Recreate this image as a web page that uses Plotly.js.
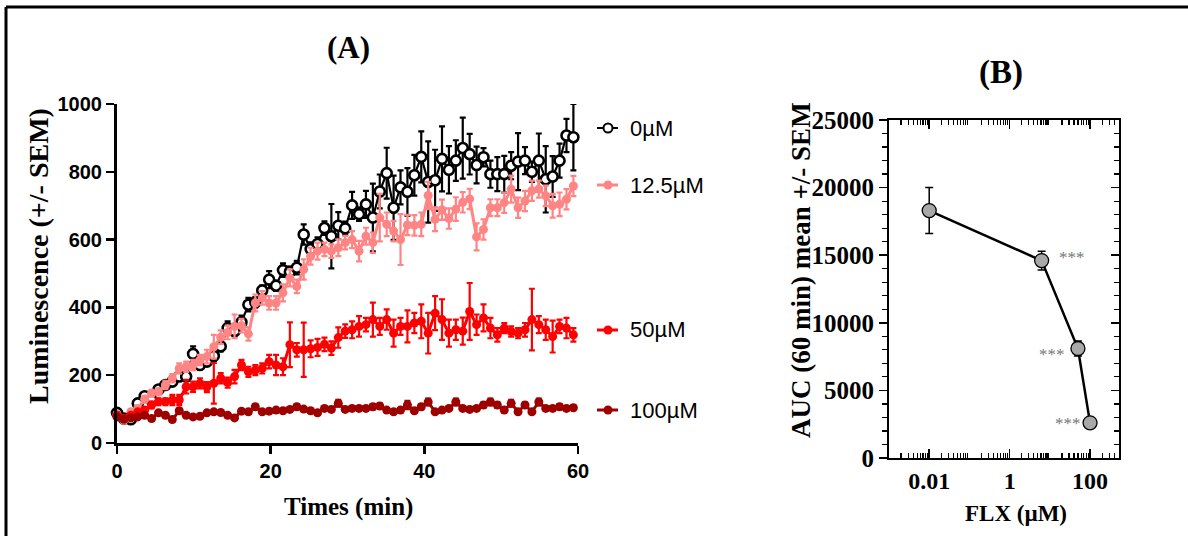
<!DOCTYPE html>
<html><head><meta charset="utf-8">
<script src="https://cdn.plot.ly/plotly-3.0.1.min.js"></script>
<style>html,body{margin:0;padding:0;background:#fff;}#chart{width:1188px;height:536px;}</style>
</head><body><div id="chart"></div>
<script>
// ---------- Panel A data ----------
const times = [0,0.9,1.8,2.7,3.6,4.5,5.4,6.3,7.2,8.1,9,9.9,10.8,11.7,12.6,13.5,14.4,15.3,16.2,17.1,18,18.9,19.8,20.7,21.6,22.5,23.4,24.3,25.2,26.1,27,27.9,28.8,29.7,30.6,31.5,32.4,33.3,34.2,35.1,36,36.9,37.8,38.7,39.6,40.5,41.4,42.3,43.2,44.1,45,45.9,46.8,47.7,48.6,49.5,50.4,51.3,52.2,53.1,54,54.9,55.8,56.7,57.6,58.5,59.4];
const lum0 = [89,72,70,117,138,126,158,171,181,196,196,263,230,240,257,285,339,330,356,408,415,450,482,464,510,505,517,615,572,587,634,610,641,633,701,675,704,665,742,796,694,754,741,790,844,770,775,838,806,833,870,852,820,843,793,793,793,818,830,833,800,833,778,786,833,907,902];
const sem0 = [8,6,6,8,8,10,8,10,10,10,12,22,12,12,15,15,20,15,20,20,15,15,25,15,20,15,20,30,20,20,20,95,40,20,40,20,40,100,50,75,95,50,70,60,75,120,90,96,70,60,90,60,54,27,40,50,54,40,84,40,30,80,98,60,50,49,98];
const lum12 = [85,67,92,102,129,147,151,171,191,220,225,230,245,255,284,312,326,344,346,322,413,428,413,413,443,487,462,512,551,566,571,566,576,591,600,566,610,591,665,645,625,600,643,642,645,730,660,688,662,690,710,720,608,630,694,694,709,749,694,714,744,749,729,700,704,719,758];
const sem12 = [6,6,8,8,10,10,10,12,12,15,15,15,15,20,35,20,20,35,20,20,25,20,20,20,25,25,20,30,25,25,20,20,25,20,25,30,25,30,70,35,30,75,30,30,35,40,35,30,30,35,30,30,40,30,25,25,30,40,30,30,30,25,30,35,35,30,30];
const lum50 = [82,72,82,92,97,112,122,122,127,127,166,166,176,165,176,191,178,196,230,210,215,220,240,230,225,290,275,275,278,282,291,280,311,330,334,344,349,364,344,364,324,344,344,354,359,324,383,364,324,334,330,388,349,369,339,319,339,329,324,334,364,349,334,314,344,339,319];
const sem50 = [8,6,6,6,8,10,10,10,15,15,20,15,15,15,60,15,15,20,15,15,15,15,20,30,25,66,20,80,25,25,20,20,30,20,25,30,20,50,25,30,40,25,47,30,50,60,50,60,40,30,40,84,30,40,30,20,15,15,15,20,91,25,30,47,20,30,20];
const lum100 = [77,70,74,77,82,72,89,82,69,95,82,77,79,89,92,90,82,74,94,92,107,92,94,97,95,99,107,100,95,89,102,99,117,99,102,102,102,107,109,97,92,97,112,95,107,121,92,97,102,121,102,99,102,112,121,112,97,117,92,112,92,121,102,102,107,102,104];
const sem100 = [5,5,5,5,6,5,6,5,5,6,5,5,5,6,6,5,5,5,6,6,8,5,6,6,6,6,8,6,6,6,6,6,10,6,6,6,6,8,8,6,6,6,12,6,8,10,6,6,6,10,6,6,6,8,10,8,6,10,6,8,6,10,6,6,8,6,6];
const seriesNames = ['0µM','12.5µM','50µM','100µM'];
const seriesColors = ['#000000','#FF8585','#FF0000','#9E0000'];

// ---------- Panel B data ----------
const flx = [0.01, 6.25, 50, 100];
const auc = [18300, 14600, 8100, 2600];
const aucSem = [1700, 700, 550, 200];
const sigLabels = ['', '***', '***', '***'];

const W = 1188, H = 536;
const px = x => x / W;
const py = y => 1 - y / H;

const serif = 'Liberation Serif, Times New Roman, serif';
const sans = 'Liberation Sans, Arial, sans-serif';

function seriesTrace(y, e, i, open) {
  const c = seriesColors[i];
  return {
    x: times, y: y, type: 'scatter', mode: 'lines+markers', name: seriesNames[i],
    xaxis: 'x', yaxis: 'y', cliponaxis: false, showlegend: false,
    line: {color: c, width: open ? 2.2 : 3},
    marker: open ? {symbol: 'circle', size: 10, color: '#ffffff', line: {color: c, width: 2.6}}
                 : {symbol: 'circle', size: 9, color: c, line: {width: 0}},
    error_y: {type: 'data', array: e, visible: true, color: c, thickness: 2.2, width: 3}
  };
}

const traces = [
  seriesTrace(lum0, sem0, 0, true),
  seriesTrace(lum12, sem12, 1, false),
  seriesTrace(lum50, sem50, 2, false),
  seriesTrace(lum100, sem100, 3, false),
  {
    x: flx, y: auc, type: 'scatter', mode: 'lines+markers', xaxis: 'x2', yaxis: 'y2',
    cliponaxis: false, showlegend: false,
    line: {color: '#000', width: 2.5},
    marker: {symbol: 'circle', size: 14, color: '#A8A8A8', line: {color: '#000', width: 1.3}},
    error_y: {type: 'data', array: aucSem, visible: true, color: '#000', thickness: 1.5, width: 4}
  }
];

// legend (A) placed next to the curves, as in the reference
const legendY = [128, 185, 330, 410];
const shapes = [
  {type: 'line', xref: 'paper', yref: 'paper', x0: px(6), x1: px(1188), y0: py(7), y1: py(7), line: {color: '#000', width: 3}},
  {type: 'line', xref: 'paper', yref: 'paper', x0: px(6), x1: px(6), y0: py(7), y1: py(536), line: {color: '#000', width: 3}}
];
const ann = (text, x, y, size, extra) => Object.assign({text: text, xref: 'paper', yref: 'paper', x: px(x), y: py(y),
  xanchor: 'center', yanchor: 'middle', showarrow: false, font: {family: serif, size: size, weight: 'bold', color: '#000'}}, extra || {});
const annotations = [
  ann('(A)', 348, 47, 31),
  ann('(B)', 1001, 73, 33),
  ann('Luminescence (+/- SEM)', 38, 256, 28, {textangle: -90}),
  ann('Times (min)', 348, 507, 25),
  ann('AUC (60 min) mean +/- SEM', 801, 270, 27, {textangle: -90}),
  ann('FLX (µM)', 1016, 513, 23)
];
seriesNames.forEach((n, i) => {
  const c = seriesColors[i];
  shapes.push({type: 'line', xref: 'paper', yref: 'paper', x0: px(597), x1: px(618), y0: py(legendY[i]), y1: py(legendY[i]), line: {color: c, width: i === 0 ? 2 : 3}});
  shapes.push({type: 'circle', xref: 'paper', yref: 'paper', x0: px(603.5), x1: px(612.5), y0: py(legendY[i] - 4.5), y1: py(legendY[i] + 4.5),
    fillcolor: i === 0 ? '#fff' : c, line: {color: c, width: i === 0 ? 2 : 0}});
  annotations.push({text: n, xref: 'paper', yref: 'paper', x: px(628), y: py(legendY[i]), xanchor: 'left', yanchor: 'middle', showarrow: false,
    font: {family: sans, size: 22, color: '#000'}});
});
const starShift = [0, 30, -26, -22];
const starYShift = [0, 3, -6, -1];
flx.forEach((f, i) => {
  if (!sigLabels[i]) return;
  annotations.push({text: sigLabels[i], xref: 'x2', yref: 'y2', x: Math.log10(f), y: auc[i], xshift: starShift[i], yshift: starYShift[i],
    xanchor: 'center', yanchor: 'middle', showarrow: false, font: {family: serif, size: 17, color: '#777'}});
});

const logMinor = [];
[0.001, 0.01, 0.1, 1, 10, 100].forEach(d => { for (let k = 2; k <= 9; k++) { const v = d * k; if (v <= 500) logMinor.push(v); } });

const layout = {
  width: W, height: H, margin: {l: 0, r: 0, t: 0, b: 0},
  paper_bgcolor: '#fff', plot_bgcolor: 'rgba(0,0,0,0)', showlegend: false,
  xaxis: {
    domain: [px(117), px(578)], range: [0, 60], anchor: 'y', tickvals: [0, 20, 40, 60],
    ticks: 'outside', ticklen: 8, tickwidth: 2.5, tickcolor: '#000', showline: true, linewidth: 3, linecolor: '#000',
    zeroline: false, showgrid: false, automargin: false,
    tickfont: {family: sans, size: 20, weight: 'bold', color: '#000'}
  },
  yaxis: {
    domain: [py(443), py(104)], range: [0, 1000], anchor: 'x', dtick: 200,
    ticks: 'outside', ticklen: 8, tickwidth: 2.5, tickcolor: '#000', showline: true, linewidth: 3, linecolor: '#000',
    zeroline: false, showgrid: false, automargin: false,
    tickfont: {family: sans, size: 20, weight: 'bold', color: '#000'}
  },
  xaxis2: {
    type: 'log', domain: [px(889), px(1119)], range: [-3, 2.72], anchor: 'y2',
    tickvals: [0.01, 1, 100], ticktext: ['0.01', '1', '100'],
    ticks: 'inside', ticklen: 9, tickwidth: 1.5, tickcolor: '#000', showline: true, linewidth: 2, linecolor: '#000', mirror: 'ticks',
    minor: {tickvals: logMinor, ticks: 'inside', ticklen: 5, tickwidth: 1.2, tickcolor: '#000'},
    zeroline: false, showgrid: false, automargin: false,
    tickfont: {family: serif, size: 24, weight: 'bold', color: '#000'}
  },
  yaxis2: {
    domain: [py(458), py(120)], range: [0, 25000], anchor: 'x2', dtick: 5000, tickformat: 'd',
    ticks: 'outside', ticklen: 8, tickwidth: 1.5, tickcolor: '#000', showline: true, linewidth: 2, linecolor: '#000',
    minor: {dtick: 1000, ticks: 'outside', ticklen: 5, tickwidth: 1.2, tickcolor: '#000'},
    zeroline: false, showgrid: false, automargin: false,
    tickfont: {family: serif, size: 25, weight: 'bold', color: '#000'}
  },
  yaxis3: {
    overlaying: 'y2', side: 'right', anchor: 'x2', range: [0, 25000], dtick: 5000,
    ticks: 'inside', ticklen: 8, tickwidth: 1.5, tickcolor: '#000', showline: true, linewidth: 2, linecolor: '#000',
    minor: {dtick: 1000, ticks: 'inside', ticklen: 5, tickwidth: 1.2, tickcolor: '#000'},
    showticklabels: false, zeroline: false, showgrid: false, automargin: false
  },
  shapes: shapes,
  annotations: annotations
};

// invisible point that activates the mirrored right-hand axis of panel B
traces.push({x: [flx[0]], y: [auc[0]], xaxis: 'x2', yaxis: 'y3', type: 'scatter', mode: 'markers', marker: {opacity: 0}, hoverinfo: 'skip', showlegend: false});

Plotly.newPlot('chart', traces, layout, {staticPlot: true, displayModeBar: false});
</script>
</body></html>
